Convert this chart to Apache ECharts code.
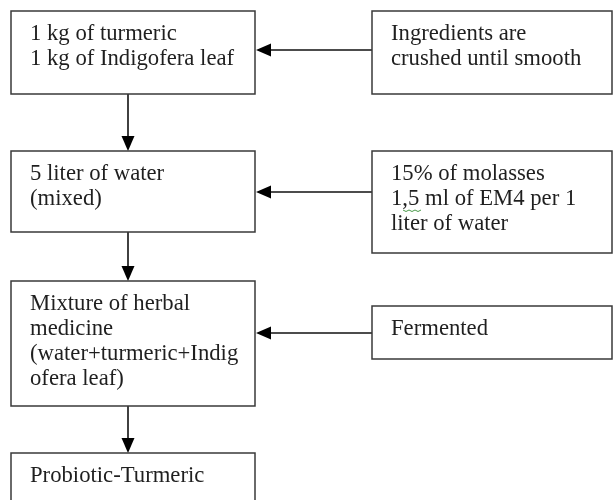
<!DOCTYPE html>
<html><head><meta charset="utf-8">
<script src="https://cdn.jsdelivr.net/npm/echarts@6/dist/echarts.min.js"></script>
<style>html,body{margin:0;padding:0;background:#fff}#c{width:614px;height:500px}</style>
</head><body><div id="c"></div>
<script>
// ---- content ----
const stepTexts = [
  ["1 kg of turmeric", "1 kg of Indigofera leaf"],
  ["5 liter of water", "(mixed)"],
  ["Mixture of herbal", "medicine", "(water+turmeric+Indig", "ofera leaf)"],
  ["Probiotic-Turmeric"]
];
const inputTexts = [
  ["Ingredients are", "crushed until smooth"],
  ["15% of molasses", "1,5 ml of EM4 per 1", "liter of water"],
  ["Fermented"]
];

// ---- layout (diagram units) ----
const stepBoxes = [[11, 11, 255, 94], [11, 151, 255, 232], [11, 281, 255, 406], [11, 453, 255, 540]];
const inputBoxes = [[372, 11, 612, 94], [372, 151, 612, 253], [372, 306, 612, 359]];
const inputArrowY = [50, 192, 333];
const flowX = 128;

const FONT = '22.7px "Liberation Serif", "Times New Roman", serif';
const TEXT_COLOR = '#1f1f1f';
const BORDER = '#3a3a3a';

function boxGroup(api, box, lines) {
  const p0 = api.coord([box[0], box[1]]);
  const p1 = api.coord([box[2], box[3]]);
  const children = [{
    type: 'rect',
    shape: { x: p0[0], y: p0[1], width: p1[0] - p0[0], height: p1[1] - p0[1] },
    style: { fill: '#fff', stroke: BORDER, lineWidth: 1.5 }
  }];
  lines.forEach((t, i) => {
    const tp = api.coord([box[0] + 19, box[1] + 23 + i * 25]);
    children.push({
      type: 'text',
      style: { text: t, x: tp[0], y: tp[1], font: FONT, fill: TEXT_COLOR,
               align: 'left', verticalAlign: 'middle', textAlign: 'left', textVerticalAlign: 'middle' }
    });
  });
  return { type: 'group', children };
}

const stepData = stepTexts.map((_, i) => [i]);
const inputData = inputTexts.map((_, i) => [i]);
const flowData = stepTexts.slice(1).map((_, i) => [i]);

const option = {
  backgroundColor: '#fff',
  animation: false,
  grid: { left: 0, right: 0, top: 0, bottom: 0 },
  xAxis: { type: 'value', min: 0, max: 614, show: false },
  yAxis: { type: 'value', min: 0, max: 500, inverse: true, show: false },
  series: [
    { // vertical flow arrows
      type: 'custom', data: flowData, silent: true, clip: false,
      renderItem: (params, api) => {
        const i = api.value(0);
        const a = api.coord([flowX, stepBoxes[i][3]]);
        const b = api.coord([flowX, stepBoxes[i + 1][1]]);
        return { type: 'group', children: [
          { type: 'line', shape: { x1: a[0], y1: a[1], x2: b[0], y2: b[1] - 12 },
            style: { stroke: '#111', lineWidth: 1.6 } },
          { type: 'polygon', shape: { points: [[b[0], b[1]], [b[0] - 6.5, b[1] - 15], [b[0] + 6.5, b[1] - 15]] },
            style: { fill: '#000' } }
        ]};
      }
    },
    { // horizontal input arrows
      type: 'custom', data: inputData, silent: true, clip: false,
      renderItem: (params, api) => {
        const i = api.value(0);
        const y = inputArrowY[i];
        const a = api.coord([inputBoxes[i][0], y]);
        const b = api.coord([stepBoxes[i][2], y]);
        return { type: 'group', children: [
          { type: 'line', shape: { x1: a[0], y1: a[1], x2: b[0] + 12, y2: b[1] },
            style: { stroke: '#111', lineWidth: 1.6 } },
          { type: 'polygon', shape: { points: [[b[0] + 1, b[1]], [b[0] + 16, b[1] - 6.5], [b[0] + 16, b[1] + 6.5]] },
            style: { fill: '#000' } }
        ]};
      }
    },
    { // step boxes
      type: 'custom', data: stepData, silent: true, clip: false,
      renderItem: (params, api) => {
        const i = api.value(0);
        return boxGroup(api, stepBoxes[i], stepTexts[i]);
      }
    },
    { // input boxes
      type: 'custom', data: inputData, silent: true, clip: false,
      renderItem: (params, api) => {
        const i = api.value(0);
        const g = boxGroup(api, inputBoxes[i], inputTexts[i]);
        if (i === 1) {
          // spell-check squiggle under "1,5"
          const pts = [];
          for (let k = 0; k <= 6; k++) {
            pts.push(api.coord([403 + k * 3, 210 + (k % 2 ? 1.5 : 0)]));
          }
          g.children.push({ type: 'polyline', shape: { points: pts },
            style: { stroke: '#4a9a4a', lineWidth: 1, fill: null } });
        }
        return g;
      }
    }
  ]
};

const chart = echarts.init(document.getElementById('c'), null, { renderer: 'canvas' });
chart.setOption(option);
</script>
</body></html>
